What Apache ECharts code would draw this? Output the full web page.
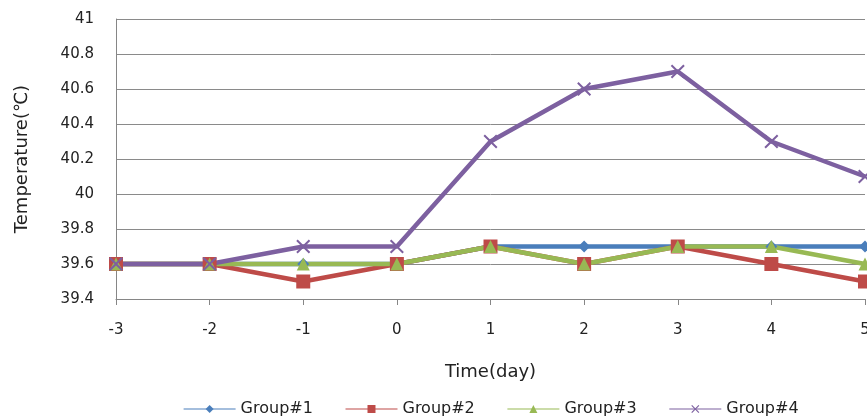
<!DOCTYPE html>
<html>
<head>
<meta charset="utf-8">
<script src="https://cdn.jsdelivr.net/npm/echarts@6/dist/echarts.min.js"></script>
<style>html,body{margin:0;padding:0;background:#fff;}#c{width:867px;height:420px;}</style>
</head>
<body>
<div id="c"></div>
<script>
var days = ['-3', '-2', '-1', '0', '1', '2', '3', '4', '5'];
var group1 = [39.6, 39.6, 39.6, 39.6, 39.7, 39.7, 39.7, 39.7, 39.7];
var group2 = [39.6, 39.6, 39.5, 39.6, 39.7, 39.6, 39.7, 39.6, 39.5];
var group3 = [39.6, 39.6, 39.6, 39.6, 39.7, 39.6, 39.7, 39.7, 39.6];
var group4 = [39.6, 39.6, 39.7, 39.7, 40.3, 40.6, 40.7, 40.3, 40.1];
var names = ['Group#1', 'Group#2', 'Group#3', 'Group#4'];

var font = 'DejaVu Sans';
var xPath = 'path://M0,1L1,0L5,4L9,0L10,1L6,5L10,9L9,10L5,6L1,10L0,9L4,5Z';

function mk(name, data, color, symbol, size) {
  return {
    name: name, type: 'line', data: data,
    symbol: symbol, symbolSize: size, showSymbol: true,
    lineStyle: {width: 4.5, color: color},
    itemStyle: {color: color},
    z: 2
  };
}

var chart = echarts.init(document.getElementById('c'));
chart.setOption({
  animation: false,
  backgroundColor: '#fff',
  textStyle: {fontFamily: font},
  grid: {left: 116, right: 2, top: 19, bottom: 121, outerBoundsMode: 'none', containLabel: false},
  legend: {
    data: names,
    left: 178, top: 396,
    itemWidth: 52, itemHeight: 10, itemGap: 32,
    lineStyle: {width: 1.2},
    textStyle: {fontFamily: font, fontSize: 16, color: '#222'}
  },
  xAxis: {
    type: 'category', data: days, boundaryGap: false,
    name: 'Time(day)', nameLocation: 'middle', nameGap: 64,
    nameTextStyle: {fontFamily: font, fontSize: 18, color: '#222'},
    axisLine: {lineStyle: {color: '#868686', width: 1}},
    axisTick: {show: true, length: 6, lineStyle: {color: '#868686'}},
    axisLabel: {fontFamily: font, fontSize: 15, color: '#222', margin: 24},
    splitLine: {show: false}
  },
  yAxis: {
    type: 'value', min: 39.4, max: 41, interval: 0.2,
    name: 'Temperature(℃)', nameLocation: 'middle', nameGap: 85,
    nameTextStyle: {fontFamily: font, fontSize: 18, color: '#222'},
    axisLine: {show: true, lineStyle: {color: '#868686', width: 1}},
    axisTick: {show: false},
    axisLabel: {fontFamily: font, fontSize: 15, color: '#222', margin: 22},
    splitLine: {lineStyle: {color: '#8a8a8a', width: 1}}
  },
  series: [
    mk(names[0], group1, '#4A7EBB', 'diamond', 12),
    mk(names[1], group2, '#BE4B48', 'rect', 14),
    mk(names[2], group3, '#98B954', 'triangle', 13),
    mk(names[3], group4, '#7D60A0', xPath, 14)
  ]
});
</script>
</body>
</html>
